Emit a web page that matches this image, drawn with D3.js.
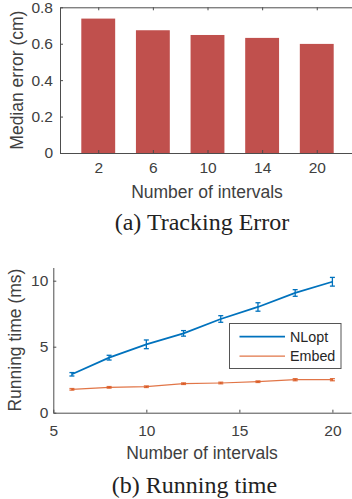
<!DOCTYPE html>
<html>
<head>
<meta charset="utf-8">
<script src="https://cdn.jsdelivr.net/npm/d3@7"></script>
<style>
  body { margin: 0; background: #fff; }
  svg { display: block; }
  .axis text { font-family: "Liberation Sans", Arial, sans-serif; font-size: 15.5px; fill: #404040; }
  .axis path, .axis line { stroke: #4d4d4d; }
  .label { font-family: "Liberation Sans", Arial, sans-serif; font-size: 17.5px; fill: #404040; }
  .caption { font-family: "Liberation Serif", "Times New Roman", serif; font-size: 24px; fill: #222; }
  .legend text { font-family: "Liberation Sans", Arial, sans-serif; font-size: 14.3px; fill: #262626; }
</style>
</head>
<body>
<script>
// (a) tracking error
var intervalsA = ["2", "6", "10", "14", "20"];
var medianError = [0.738, 0.674, 0.648, 0.632, 0.599];
var yTicksA = [0, 0.2, 0.4, 0.6, 0.8];

// (b) running time
var intervalsB = [6, 8, 10, 12, 14, 16, 18, 20];
var nloptMean = [2.91, 4.17, 5.18, 6.01, 7.10, 8.01, 9.07, 9.92];
var nloptErr = [0.13, 0.18, 0.33, 0.21, 0.25, 0.32, 0.25, 0.33];
var embedMean = [1.77, 1.92, 1.97, 2.20, 2.25, 2.35, 2.50, 2.50];
var embedErr = [0.06, 0.06, 0.06, 0.06, 0.06, 0.06, 0.08, 0.08];
var xTicksB = [5, 10, 15, 20];
var yTicksB = [0, 5, 10];

var svg = d3.select("body").append("svg")
  .attr("width", 352)
  .attr("height", 499);

// ---------- chart (a) ----------
var xa = d3.scaleLinear().domain([0.3, 5.7]).range([60, 355]);
var ya = d3.scaleLinear().domain([0, 0.8]).range([153, 7.3]);
var barW = xa(0.62) - xa(0); // bar width in px

var ga = svg.append("g");

ga.selectAll("rect.bar")
  .data(medianError)
  .enter()
  .append("rect")
  .attr("class", "bar")
  .attr("x", function (d, i) { return xa(i + 1) - barW / 2; })
  .attr("width", barW)
  .attr("y", function (d) { return ya(d); })
  .attr("height", function (d) { return ya(0) - ya(d); })
  .attr("fill", "#c0504d");

var idxA = intervalsA.map(function (d, i) { return i + 1; });

ga.append("g").attr("class", "axis")
  .attr("transform", "translate(0," + ya(0) + ")")
  .call(d3.axisBottom(xa).tickValues(idxA)
    .tickFormat(function (d) { return intervalsA[d - 1]; })
    .tickSizeInner(-3).tickSizeOuter(0).tickPadding(9));

ga.append("g").attr("class", "axis")
  .attr("transform", "translate(0," + ya(0.8) + ")")
  .call(d3.axisTop(xa).tickValues(idxA).tickFormat("")
    .tickSizeInner(-3).tickSizeOuter(0));

ga.append("g").attr("class", "axis")
  .attr("transform", "translate(" + xa(0.3) + ",0)")
  .call(d3.axisLeft(ya).tickValues(yTicksA)
    .tickFormat(function (d) { return d === 0 ? "0" : d3.format(".1f")(d); })
    .tickSizeInner(-3).tickSizeOuter(0).tickPadding(7));

ga.append("g").attr("class", "axis")
  .attr("transform", "translate(" + xa(5.7) + ",0)")
  .call(d3.axisRight(ya).tickValues(yTicksA).tickFormat("")
    .tickSizeInner(-3).tickSizeOuter(0));

ga.append("text").attr("class", "label")
  .attr("text-anchor", "middle")
  .attr("transform", "translate(23," + (ya(0.4)) + ") rotate(-90)")
  .text("Median error (cm)");

ga.append("text").attr("class", "label")
  .attr("text-anchor", "middle")
  .attr("x", 207).attr("y", 197.5)
  .text("Number of intervals");

svg.append("text").attr("class", "caption")
  .attr("text-anchor", "middle")
  .attr("x", 202).attr("y", 230)
  .text("(a) Tracking Error");

// ---------- chart (b) ----------
var xb = d3.scaleLinear().domain([5, 21]).range([53.3, 351]);
var yb = d3.scaleLinear().domain([0, 11]).range([412.7, 267.5]);

var gb = svg.append("g");

gb.append("g").attr("class", "axis")
  .attr("transform", "translate(0," + yb(0) + ")")
  .call(d3.axisBottom(xb).tickValues(xTicksB)
    .tickSizeInner(-3).tickSizeOuter(0).tickPadding(12));

gb.append("g").attr("class", "axis")
  .attr("transform", "translate(" + xb(5) + ",0)")
  .call(d3.axisLeft(yb).tickValues(yTicksB)
    .tickSizeInner(-3).tickSizeOuter(0).tickPadding(5));

var series = [
  { name: "NLopt", mean: nloptMean, err: nloptErr, color: "#0072bd", width: 1.8, opacity: 1 },
  { name: "Embed", mean: embedMean, err: embedErr, color: "#d95319", width: 1.2, opacity: 0.8 }
];

var line = d3.line()
  .x(function (d) { return xb(d.x); })
  .y(function (d) { return yb(d.y); });

// draw Embed first so NLopt sits on top
series.slice().reverse().forEach(function (s) {
  var pts = intervalsB.map(function (x, i) { return { x: x, y: s.mean[i], e: s.err[i] }; });
  var g = gb.append("g").attr("stroke", s.color).attr("stroke-opacity", s.opacity).attr("fill", "none");
  g.append("path").datum(pts).attr("d", line).attr("stroke-width", s.width);
  var eb = g.selectAll("g.eb").data(pts).enter().append("g").attr("stroke-width", 1.3);
  eb.append("line")
    .attr("x1", function (d) { return xb(d.x); }).attr("x2", function (d) { return xb(d.x); })
    .attr("y1", function (d) { return yb(d.y - d.e); }).attr("y2", function (d) { return yb(d.y + d.e); });
  [-1, 1].forEach(function (sg) {
    eb.append("line")
      .attr("x1", function (d) { return xb(d.x) - 2.5; }).attr("x2", function (d) { return xb(d.x) + 2.5; })
      .attr("y1", function (d) { return yb(d.y + sg * d.e); }).attr("y2", function (d) { return yb(d.y + sg * d.e); });
  });
});

gb.append("text").attr("class", "label")
  .attr("text-anchor", "middle")
  .attr("transform", "translate(21," + yb(5.5) + ") rotate(-90)")
  .text("Running time (ms)");

gb.append("text").attr("class", "label")
  .attr("text-anchor", "middle")
  .attr("x", 202).attr("y", 459)
  .text("Number of intervals");

// legend
var lg = gb.append("g").attr("class", "legend");
lg.append("rect")
  .attr("x", 229.5).attr("y", 323.5).attr("width", 111.5).attr("height", 45)
  .attr("fill", "#fff").attr("stroke", "#555").attr("stroke-width", 1);
series.forEach(function (s, i) {
  var yy = 336.7 + i * 19.5;
  lg.append("line")
    .attr("x1", 239.5).attr("x2", 285).attr("y1", yy).attr("y2", yy)
    .attr("stroke", s.color).attr("stroke-opacity", s.opacity).attr("stroke-width", s.width);
  lg.append("text").attr("x", 290).attr("y", yy + 5.2).text(s.name);
});

svg.append("text").attr("class", "caption")
  .attr("text-anchor", "middle")
  .attr("x", 194.5).attr("y", 493)
  .text("(b) Running time");
</script>
</body>
</html>
